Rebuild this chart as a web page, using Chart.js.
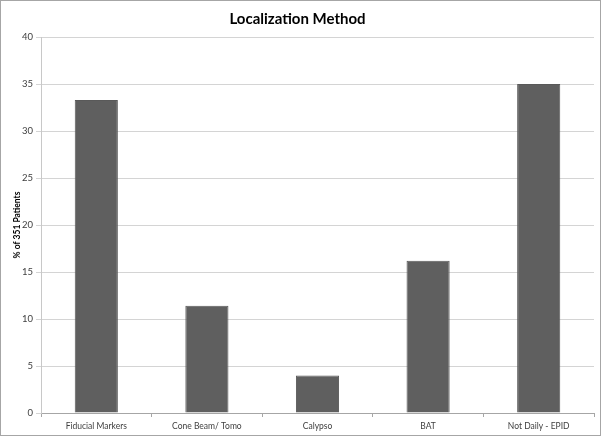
<!DOCTYPE html>
<html>
<head>
<meta charset="utf-8">
<script src="https://cdn.jsdelivr.net/npm/chart.js@4"></script>
<style>
    body { margin: 0; background: #fff; }
    #wrap { width: 601px; height: 436px; box-sizing: border-box; border: 1px solid #a6a6a6; }
    canvas { display: block; }
</style>
</head>
<body>
<div id="wrap"><canvas id="chartLocalization" width="599" height="434"></canvas></div>
<script>
const categories = ["Fiducial Markers", "Cone Beam/ Tomo", "Calypso", "BAT", "Not Daily - EPID"];
const percentPatients = [33.3, 11.4, 4.0, 16.2, 35.0];
const yTicks = [0, 5, 10, 15, 20, 25, 30, 35, 40];

document.addEventListener("DOMContentLoaded", () => {
    const ctx = document.getElementById("chartLocalization");
    if (!ctx) return;

    new Chart(ctx, {
        type: "bar",
        data: {
            labels: categories,
            datasets: [{
                data: percentPatients,
                backgroundColor: "#5f5f5f",
                borderColor: "#595959",
                borderWidth: 1,
                categoryPercentage: 0.39,
                barPercentage: 1
            }]
        },
        options: {
            responsive: false,
            animation: false,
            layout: { padding: { top: 0, right: 6, bottom: 0, left: 0 } },
            plugins: {
                legend: { display: false },
                tooltip: { enabled: false },
                title: {
                    display: true,
                    // zero-width non-joiner stops Lato's "ti" ligature
                    text: "Localiza\u200Ction Method",
                    color: "#000",
                    font: { family: "Lato", size: 15, weight: "bold" },
                    padding: { top: 9, bottom: 9 }
                }
            },
            scales: {
                x: {
                    grid: { offset: true, drawOnChartArea: false, color: "#a6a6a6", tickLength: 4 },
                    border: { color: "#a6a6a6" },
                    ticks: {
                        color: "#404040",
                        font: { family: "Lato", size: 8.5 },
                        padding: 4,
                        maxRotation: 0
                    },
                    afterFit: s => { s.height = 22; }
                },
                y: {
                    min: 0,
                    max: 40,
                    afterBuildTicks: s => { s.ticks = yTicks.map(v => ({ value: v })); },
                    grid: { color: "#d4d4d4", tickLength: 5 },
                    border: { color: "#c8c8c8" },
                    ticks: {
                        color: "#404040",
                        font: { family: "Lato", size: 9.5 },
                        padding: 3
                    },
                    title: {
                        display: true,
                        text: "% of 351 Patients",
                        color: "#000",
                        font: { family: "Lato", size: 8.5, weight: "bold" },
                        padding: { top: 11, bottom: 0 }
                    },
                    afterFit: s => { s.width = 40; }
                }
            }
        }
    });
});
</script>
</body>
</html>
